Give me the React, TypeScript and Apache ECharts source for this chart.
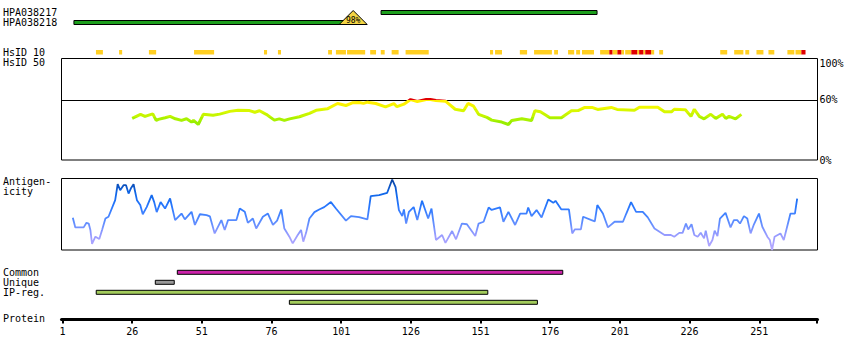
import React, { useEffect, useRef } from 'react';
import * as echarts from 'echarts';

// ---------- data ----------
const ANTIBODIES = ['HPA038217', 'HPA038218'];
// [start residue, end residue, row index]
const ANTIBODY_SPANS = [
  [115.3, 192.8, 0],
  [5.1, 105.3, 1],
];
// [residue, row index]
const OVERLAP_MARK = [[105.3, 1]];
const OVERLAP_TEXT = '98%';

const HSID_ROW = ['HsID 10'];
const HSID_YELLOW = [
  [13, 15.5], [21.3, 22.4], [32, 34.6], [48.2, 55.4], [73.3, 74.4], [78.3, 79.4],
  [96.3, 97.7], [99.1, 102.7], [103.1, 109.6], [111.4, 113.5], [115.2, 116.6],
  [119.1, 121.6], [124.1, 132.4], [154.4, 155.5], [156.2, 158.7], [165.1, 167.7],
  [170.2, 176.6], [177.4, 178.8], [182.4, 184.6], [185.3, 186.7], [187.4, 191.7],
  [193.9, 197.2], [198.3, 200.1], [201.5, 202.5], [202.9, 205.1], [207.2, 207.9],
  [209.4, 210.1], [212.2, 213.3], [215.1, 216.5], [237, 239.5], [242, 245.3],
  [246, 247.4], [250, 252.5], [254.3, 256.4], [261.1, 263.6], [264, 266.1],
];
const HSID_RED = [
  [197.2, 198.3], [200.1, 201.5], [205.1, 207.2], [207.9, 209.4], [210.1, 212.2], [266.1, 267.6],
];

const SIMILARITY_TICKS = [0, 60, 100];
const SIMILARITY_THRESHOLD = [60];
// [residue, % identity]
const SIMILARITY = [
  [26, 41], [29, 45], [30.6, 43], [33.4, 45.5], [34.6, 39], [35.4, 40], [37.8, 41.6],
  [39.6, 43], [41.5, 40.6], [43.7, 39], [45.5, 40.6], [47.3, 37.4], [48, 39], [49.7, 35],
  [51.5, 45], [55, 44], [57.4, 45.2], [61, 47.9], [64, 49], [68.1, 48.7], [70, 47],
  [71.7, 48.5], [74.1, 45], [77, 39.3], [78.8, 40.5], [80.6, 39], [82.5, 40.5], [86, 42.6],
  [89.6, 46], [92, 49], [96, 50.4], [99.7, 55.7], [102.7, 53.7], [105, 56.3], [107.4, 56.6],
  [109, 55.8], [110.4, 57], [113.4, 55.7], [116.9, 52.4], [119.9, 55.5], [121, 52.5],
  [123.5, 55], [125.9, 59.5], [128.3, 57.7], [131.5, 59.6], [133, 59.6], [135, 58.6],
  [138.4, 58], [141.9, 50], [144.9, 48.5], [146.5, 55.7], [148.5, 53], [150.3, 45],
  [153.3, 42], [155, 39.3], [158.6, 37.4], [161, 35], [162.2, 39], [165.8, 40.6],
  [169.3, 39], [170.5, 48.5], [172.5, 47.5], [175.9, 41.6], [180, 41.6], [183.6, 48.5],
  [186, 48.7], [188.4, 51.8], [191, 51.8], [193, 49.8], [197.9, 51.8], [200, 49.8],
  [206.2, 49], [208, 52], [214.6, 52], [217, 47.5], [219.5, 47.5], [220.5, 50],
  [224.5, 49.5], [226.5, 43], [227.7, 50], [229.5, 43], [231.2, 40.6], [233.6, 45],
  [235.4, 41], [237.8, 45], [239, 41], [240.2, 43], [242.5, 40.6], [244.6, 45],
];

// [residue, antigenicity score 0-100]
const ANTIGENICITY = [
  [4.7, 45], [5.6, 31.6], [8.6, 31.6], [9.6, 38], [10.4, 37], [11, 28], [11.6, 8.4],
  [12.8, 18.6], [14.2, 15.3], [15.2, 28], [16.4, 44], [17.5, 46.5], [19.9, 69.7],
  [20.8, 92], [21.7, 83.7], [22.9, 90.6], [23.8, 90.6], [24.7, 79], [25.5, 86], [26.5, 92],
  [27.7, 69.7], [28.9, 62.8], [29.8, 50], [31.2, 60], [33, 76.7], [33.9, 67], [34.8, 53],
  [36.2, 67], [37.8, 58], [39.6, 72], [41.4, 41.8], [43.7, 51], [44.9, 42.8], [47.3, 53.4],
  [48.5, 35], [50.3, 50], [52.7, 48.8], [53.9, 47], [55.6, 23.2], [58, 41.8], [59.2, 28],
  [60.4, 41.8], [63.4, 41.8], [64.6, 58], [66.4, 53.4], [67.5, 38], [69.3, 44], [70.5, 30],
  [72.9, 46.5], [74.7, 51], [76.5, 35], [78, 41], [79.5, 56.7], [80.6, 30], [82.4, 18.6],
  [83.6, 9.3], [85.4, 21], [86.6, 28], [87.4, 11.6], [88.4, 24], [89.6, 44], [91.4, 53],
  [93.1, 56.7], [94.9, 60], [97.3, 67], [99.1, 58], [102.7, 41], [104.5, 47.4], [107.4, 46],
  [110.4, 42.8], [111.6, 75.3], [114.6, 76.7], [117.5, 80], [119.3, 98.6], [120.5, 88],
  [121.7, 55.8], [122.9, 47.4], [123.5, 56.7], [124.3, 37], [125.3, 53.4], [127, 60],
  [128.3, 41.8], [130, 68.8], [132.2, 44], [133.4, 58], [135, 14], [137.2, 21], [138.4, 10],
  [140.8, 26.5], [142.2, 15], [144.3, 37], [146.1, 36], [149.1, 19.5], [150.3, 37],
  [152.1, 39.5], [153.9, 59.5], [155, 56], [158, 59.5], [159.2, 39.5], [161, 53.4],
  [163.4, 35], [165.2, 51], [167.5, 51], [168.1, 59.5], [169.3, 47.4], [171.1, 55.8],
  [172.9, 45.6], [175.3, 70.7], [177.1, 66], [177.9, 68.8], [180, 56.7], [182.7, 56.7],
  [183.9, 23.2], [184.8, 28.8], [187, 28.8], [187.8, 46.5], [190.8, 41.8], [192, 40],
  [192.9, 62.8], [194.9, 51], [196.7, 31.6], [199.1, 39.5], [202.1, 39.5], [203.3, 51],
  [205, 67], [206.8, 53.4], [209.2, 53.4], [211, 45.6], [213.4, 30], [217, 21], [219.3, 21],
  [220.5, 18.6], [222.3, 24], [223.5, 24], [224.7, 37], [225.5, 28.8], [226.7, 36],
  [227.7, 21], [228.9, 18.6], [230, 24], [231.2, 16.3], [231.8, 27], [233, 5.6], [234.2, 14],
  [235, 27], [236, 19.5], [236.9, 44], [238.9, 52], [240.7, 31.6], [241.9, 41.8],
  [243.1, 41.8], [244.1, 37], [245.5, 47.4], [246.7, 44], [247.9, 23.2], [249.1, 36],
  [250.9, 51], [252.1, 32.5], [253.9, 18.6], [254.8, 14], [255.6, 0], [256.5, 18.6],
  [258.6, 23.2], [259.8, 14], [261, 32.5], [262.2, 51], [263.8, 51], [264.6, 72],
];

const REGION_ROWS = ['Common', 'Unique', 'IP-reg.', ''];
// [start residue, end residue, row index]
const REGION_SPANS = [
  [42.2, 180.5, 0],
  [34.3, 41.1, 1],
  [13.1, 153.6, 2],
  [82.4, 171.4, 3],
];

const PROTEIN_ROW = ['Protein'];
const PROTEIN_TICK_LABELS = [1, 26, 51, 76, 101, 126, 151, 176, 201, 226, 251];
const PROTEIN_END = 271.6;

// ---------- layout / style ----------
const X_MIN = 0.64;
const X_MAX = 271.9;
const LEFT = 61.5;
const RIGHT = 32.5;
const FONT = '"DejaVu Sans Mono", monospace';
const LABEL_MARGIN = LEFT - 3;

const ANTIBODY_COLOR = '#1c9e1c';
const REGION_COLORS = ['#cc22aa', '#999999', '#a3cc5c', '#a3cc5c'];

function App() {
  const ref = useRef<HTMLDivElement>(null);

  useEffect(() => {
    if (!ref.current) return;
    const chart = echarts.init(ref.current, undefined, { renderer: 'svg' });

    const hidden = { show: false };
    const xAxisBase = (gridIndex: number) => ({
      type: 'value',
      gridIndex,
      min: X_MIN,
      max: X_MAX,
      show: false,
    });
    const leftCategory = (gridIndex: number, data: string[]) => ({
      type: 'category',
      gridIndex,
      data,
      inverse: true,
      axisLine: hidden,
      axisTick: hidden,
      splitLine: hidden,
      axisLabel: {
        interval: 0,
        hideOverlap: false,
        align: 'left',
        margin: LABEL_MARGIN,
        color: '#000',
        fontFamily: FONT,
        fontSize: 10,
      },
    });

    const spanRender = (colors: (row: number) => string, h: number) => (params: any, api: any) => {
      const row = api.value(2);
      const a = api.coord([api.value(0), row]);
      const b = api.coord([api.value(1), row]);
      return {
        type: 'rect',
        shape: { x: a[0], y: a[1] - h / 2, width: b[0] - a[0], height: h },
        style: { fill: colors(row), stroke: '#000', lineWidth: 1 },
      };
    };

    const hsidRender = (color: string) => (params: any, api: any) => {
      const cs = params.coordSys;
      const a = api.coord([api.value(0), 0]);
      const b = api.coord([api.value(1), 0]);
      return {
        type: 'rect',
        shape: { x: a[0], y: cs.y, width: b[0] - a[0], height: cs.height },
        style: { fill: color },
      };
    };

    const option: any = {
      animation: false,
      backgroundColor: '#fff',
      textStyle: { fontFamily: FONT },
      grid: [
        { left: LEFT, right: RIGHT, top: 7.5, height: 20 },
        { left: LEFT, right: RIGHT, top: 50, height: 4.5 },
        { left: LEFT, right: RIGHT, top: 58.5, height: 101.5, show: true, borderColor: '#000', borderWidth: 1, backgroundColor: 'transparent' },
        { left: LEFT, right: RIGHT, top: 178.5, height: 71.5, show: true, borderColor: '#000', borderWidth: 1, backgroundColor: 'transparent' },
        { left: LEFT, right: RIGHT, top: 267.3, height: 40 },
        { left: LEFT, right: RIGHT, top: 318, height: 1.5 },
      ],
      xAxis: [
        xAxisBase(0),
        xAxisBase(1),
        xAxisBase(2),
        xAxisBase(3),
        xAxisBase(4),
        {
          type: 'value',
          gridIndex: 5,
          min: X_MIN,
          max: X_MAX,
          position: 'bottom',
          splitLine: hidden,
          axisLine: { show: true, lineStyle: { color: '#000', width: 3 } },
          axisTick: {
            show: true,
            length: 4,
            lineStyle: { color: '#000', width: 2 },
            customValues: [...PROTEIN_TICK_LABELS, PROTEIN_END],
          },
          axisLabel: {
            show: true,
            margin: 7,
            color: '#000',
            fontFamily: FONT,
            fontSize: 10,
            customValues: PROTEIN_TICK_LABELS,
          },
        },
      ],
      yAxis: [
        leftCategory(0, ANTIBODIES),
        leftCategory(1, HSID_ROW),
        {
          type: 'value',
          gridIndex: 2,
          min: 0,
          max: 100,
          position: 'right',
          axisLine: hidden,
          axisTick: hidden,
          splitLine: hidden,
          axisLabel: {
            show: true,
            margin: 2,
            color: '#000',
            fontFamily: FONT,
            fontSize: 10,
            customValues: SIMILARITY_TICKS,
            formatter: (v: number) => `${v}%`,
            verticalAlignMaxLabel: 'top',
          },
        },
        { type: 'value', gridIndex: 3, min: 0, max: 100, show: false },
        leftCategory(4, REGION_ROWS),
        leftCategory(5, PROTEIN_ROW),
      ],
      visualMap: [
        {
          type: 'piecewise',
          show: false,
          seriesIndex: 4,
          dimension: 1,
          pieces: [
            { lt: 38, color: '#99ee00' },
            { gte: 38, lt: 42, color: '#aaf200' },
            { gte: 42, lt: 46, color: '#c6f500' },
            { gte: 46, lt: 50, color: '#d8f800' },
            { gte: 50, lt: 54, color: '#f0f800' },
            { gte: 54, lt: 59.2, color: '#fff000' },
            { gte: 59.2, color: '#e00000' },
          ],
        },
        {
          type: 'continuous',
          show: false,
          seriesIndex: 6,
          dimension: 1,
          min: 0,
          max: 100,
          inRange: { color: ['#b8aaff', '#9a9cff', '#5a8cff', '#2a78ff', '#0f66e8', '#0a3f98'] },
        },
      ],
      graphic: [
        {
          type: 'text',
          left: 3,
          top: 57,
          style: { text: 'HsID 50', font: `10px ${FONT}`, fill: '#000' },
        },
        {
          type: 'text',
          left: 3,
          top: 176.5,
          style: { text: 'Antigen-\nicity', font: `10px ${FONT}`, fill: '#000', lineHeight: 10 },
        },
      ],
      series: [
        {
          type: 'custom',
          xAxisIndex: 0,
          yAxisIndex: 0,
          encode: { x: [0, 1], y: 2 },
          data: ANTIBODY_SPANS,
          renderItem: spanRender(() => ANTIBODY_COLOR, 4),
        },
        {
          type: 'custom',
          xAxisIndex: 0,
          yAxisIndex: 0,
          encode: { x: 0, y: 1 },
          data: OVERLAP_MARK,
          z: 5,
          renderItem: (params: any, api: any) => {
            const c = api.coord([api.value(0), api.value(1)]);
            return {
              type: 'group',
              children: [
                {
                  type: 'polygon',
                  shape: { points: [[c[0] - 14, c[1] + 2], [c[0] + 14, c[1] + 2], [c[0], c[1] - 12]] },
                  style: { fill: '#f3d444', stroke: '#000', lineWidth: 1 },
                },
                {
                  type: 'text',
                  x: c[0],
                  y: c[1] - 2.5,
                  style: {
                    text: OVERLAP_TEXT,
                    font: `8px ${FONT}`,
                    fill: '#000',
                    align: 'center',
                    verticalAlign: 'middle',
                  },
                },
              ],
            };
          },
        },
        {
          type: 'custom',
          xAxisIndex: 1,
          yAxisIndex: 1,
          encode: { x: [0, 1] },
          data: HSID_YELLOW,
          renderItem: hsidRender('#ffcf22'),
        },
        {
          type: 'custom',
          xAxisIndex: 1,
          yAxisIndex: 1,
          encode: { x: [0, 1] },
          data: HSID_RED,
          z: 3,
          renderItem: hsidRender('#e00000'),
        },
        {
          type: 'line',
          xAxisIndex: 2,
          yAxisIndex: 2,
          data: SIMILARITY,
          showSymbol: false,
          symbol: 'none',
          z: 4,
          lineStyle: { width: 3 },
        },
        {
          type: 'custom',
          xAxisIndex: 2,
          yAxisIndex: 2,
          encode: { y: 0 },
          data: SIMILARITY_THRESHOLD.map((v) => [v]),
          z: 3,
          renderItem: (params: any, api: any) => {
            const cs = params.coordSys;
            const y = Math.ceil(api.coord([X_MIN, api.value(0)])[1]) + 0.5;
            return {
              type: 'line',
              shape: { x1: cs.x, y1: y, x2: cs.x + cs.width, y2: y },
              style: { stroke: '#000', lineWidth: 1 },
            };
          },
        },
        {
          type: 'line',
          xAxisIndex: 3,
          yAxisIndex: 3,
          data: ANTIGENICITY,
          showSymbol: false,
          symbol: 'none',
          lineStyle: { width: 1.8 },
        },
        {
          type: 'custom',
          xAxisIndex: 4,
          yAxisIndex: 4,
          encode: { x: [0, 1], y: 2 },
          data: REGION_SPANS,
          renderItem: spanRender((row) => REGION_COLORS[row], 4),
        },
      ],
    };

    chart.setOption(option);
    return () => chart.dispose();
  }, []);

  return (
    <div
      ref={ref}
      style={{ position: 'fixed', left: 0, top: 0, width: 850, height: 360, background: '#fff' }}
    />
  );
}

export default App;
